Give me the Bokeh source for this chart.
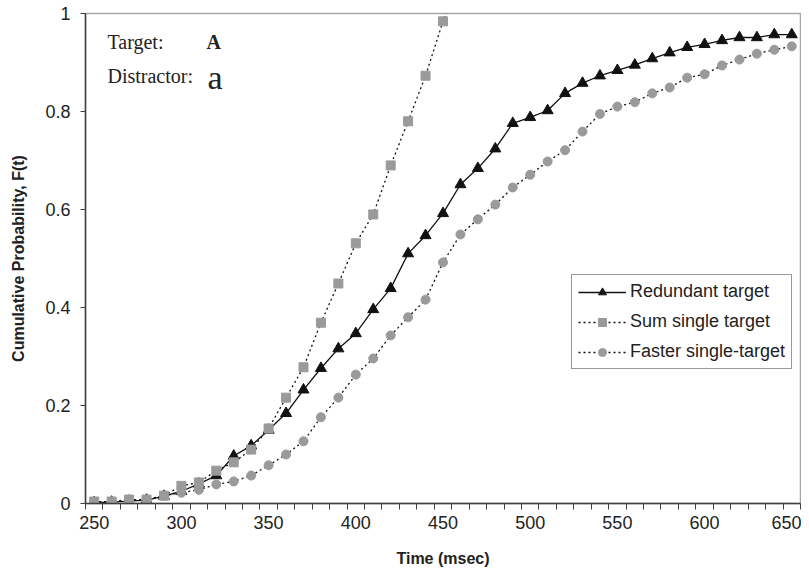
from bokeh.plotting import figure
from bokeh.models import Range1d, FixedTicker, Label, Legend, LegendItem
from bokeh.embed import file_html
from bokeh.resources import INLINE

# ---- data ----
times = [250, 260, 270, 280, 290, 300, 310, 320, 330, 340,
         350, 360, 370, 380, 390, 400, 410, 420, 430, 440,
         450, 460, 470, 480, 490, 500, 510, 520, 530, 540,
         550, 560, 570, 580, 590, 600, 610, 620, 630, 640, 650]

redundant = [0.002, 0.003, 0.005, 0.007, 0.015, 0.025, 0.040, 0.057, 0.097, 0.118,
             0.150, 0.184, 0.232, 0.276, 0.316, 0.347, 0.396, 0.439, 0.510, 0.547,
             0.592, 0.651, 0.684, 0.724, 0.776, 0.788, 0.802, 0.837, 0.858, 0.873,
             0.884, 0.895, 0.908, 0.920, 0.931, 0.937, 0.945, 0.951, 0.951, 0.957, 0.957]

sum_times = times[:22]
sum_single = [0.004, 0.004, 0.008, 0.008, 0.016, 0.036, 0.043, 0.067, 0.084, 0.110,
              0.153, 0.216, 0.278, 0.369, 0.449, 0.531, 0.590, 0.690, 0.780, 0.873,
              0.984, 1.09]

faster = [0.002, 0.004, 0.006, 0.007, 0.016, 0.022, 0.028, 0.039, 0.045, 0.057,
          0.078, 0.100, 0.127, 0.176, 0.216, 0.263, 0.296, 0.343, 0.380, 0.416,
          0.492, 0.549, 0.580, 0.610, 0.645, 0.671, 0.698, 0.721, 0.759, 0.795,
          0.810, 0.819, 0.837, 0.849, 0.869, 0.876, 0.894, 0.906, 0.918, 0.926, 0.933]

x_tick_labels = [250, 300, 350, 400, 450, 500, 550, 600, 650]
y_ticks = [0, 0.2, 0.4, 0.6, 0.8, 1]
category_edges = [t - 5 for t in times] + [times[-1] + 5]

FONT = "Liberation Sans"
SERIF = "Liberation Serif"

p = figure(width=801, height=567, output_backend="svg", toolbar_location=None,
           x_range=Range1d(245, 655), y_range=Range1d(0, 1),
           frame_width=715, frame_height=490,
           min_border_left=85, min_border_top=13, min_border_bottom=64, min_border_right=1)
p.background_fill_color = "white"
p.border_fill_color = "white"
p.outline_line_color = "#a6a6a6"
p.outline_line_width = 1.5
p.xgrid.visible = False
p.ygrid.visible = False

# x axis
xa = p.xaxis[0]
xa.ticker = FixedTicker(ticks=x_tick_labels, minor_ticks=category_edges)
xa.major_tick_out = 0
xa.major_tick_in = 0
xa.minor_tick_out = 6
xa.minor_tick_in = 0
xa.minor_tick_line_color = "#404040"
xa.axis_line_color = "#404040"
xa.axis_line_width = 1.5
xa.major_label_text_font = FONT
xa.major_label_text_font_size = "18px"
xa.major_label_text_color = "#222222"
xa.major_label_standoff = 6
xa.axis_label = "Time (msec)"
xa.axis_label_text_font = FONT
xa.axis_label_text_font_style = "bold"
xa.axis_label_text_font_size = "16px"
xa.axis_label_text_color = "#222222"
xa.axis_label_standoff = 18

# y axis
ya = p.yaxis[0]
ya.ticker = FixedTicker(ticks=y_ticks, minor_ticks=[])
ya.major_label_overrides = {0: "0", 1: "1"}
ya.major_tick_out = 5
ya.major_tick_in = 0
ya.major_tick_line_color = "#404040"
ya.axis_line_color = "#404040"
ya.axis_line_width = 1.5
ya.major_label_text_font = FONT
ya.major_label_text_font_size = "18px"
ya.major_label_text_color = "#222222"
ya.major_label_standoff = 10
ya.axis_label = "Cumulative Probability, F(t)"
ya.axis_label_text_font = FONT
ya.axis_label_text_font_style = "bold"
ya.axis_label_text_font_size = "16px"
ya.axis_label_text_color = "#222222"
ya.axis_label_standoff = 15

# series
gray = "#9a9a9a"
l1 = p.line(times, redundant, line_color="#111111", line_width=1.3)
m1 = p.scatter(times, redundant, marker="triangle", size=11, fill_color="#111111", line_color="#111111")

l2 = p.line(sum_times, sum_single, line_color="#111111", line_width=1.3, line_dash="2 3")
m2 = p.scatter(sum_times, sum_single, marker="square", size=9, fill_color=gray, line_color=gray)

l3 = p.line(times, faster, line_color="#111111", line_width=1.3, line_dash="2 3")
m3 = p.scatter(times, faster, marker="circle", size=9, fill_color=gray, line_color=gray)

legend = Legend(items=[
    LegendItem(label="Redundant target", renderers=[l1, m1]),
    LegendItem(label="Sum single target", renderers=[l2, m2]),
    LegendItem(label="Faster single-target", renderers=[l3, m3]),
], location=(486, 134))
legend.label_text_font = FONT
legend.label_text_font_size = "18px"
legend.label_text_color = "#222222"
legend.glyph_width = 48
legend.glyph_height = 20
legend.label_height = 20
legend.label_standoff = 4
legend.spacing = 9
legend.padding = 6
legend.margin = 0
legend.border_line_color = "#333333"
legend.border_line_width = 1
legend.background_fill_color = "white"
legend.background_fill_alpha = 1
p.add_layout(legend, "center")

# annotation text
p.add_layout(Label(x=257.6, y=0.941, text="Target:", text_font=SERIF, text_font_size="20px",
                   text_baseline="alphabetic", text_color="#222222"))
p.add_layout(Label(x=314.4, y=0.941, text="A", text_font=SERIF, text_font_size="20px",
                   text_font_style="bold", text_baseline="alphabetic", text_color="#222222"))
p.add_layout(Label(x=257.6, y=0.873, text="Distractor:", text_font=SERIF, text_font_size="20px",
                   text_baseline="alphabetic", text_color="#222222"))
p.add_layout(Label(x=315.0, y=0.869, text="a", text_font=SERIF, text_font_size="34px",
                   text_baseline="alphabetic", text_color="#222222"))

open("out.html", "w").write(file_html(p, INLINE))
